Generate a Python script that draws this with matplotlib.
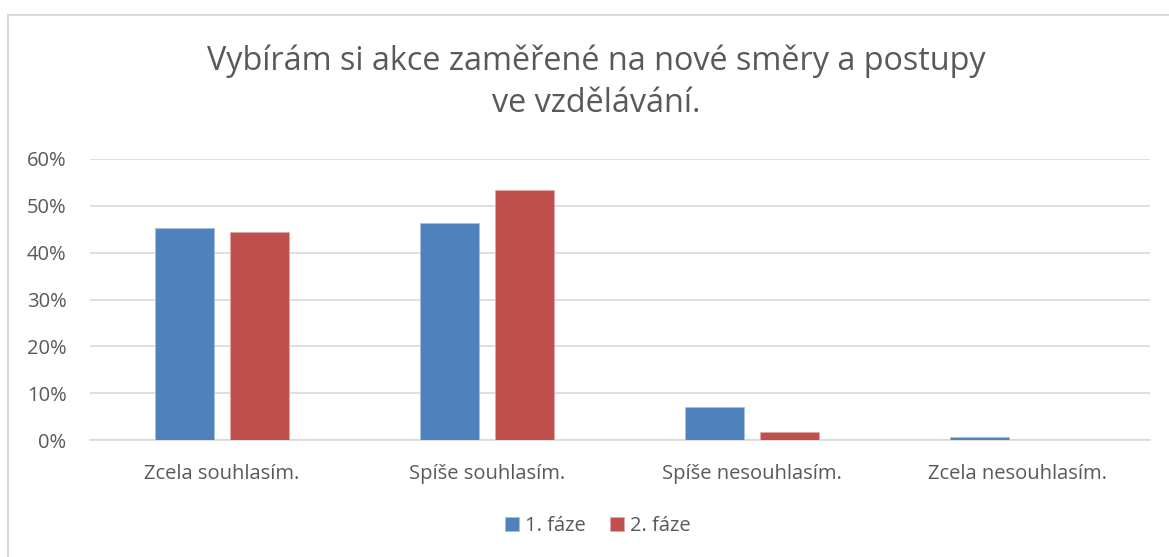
import matplotlib
matplotlib.use("Agg")
import matplotlib.pyplot as plt
import numpy as np
from matplotlib.ticker import PercentFormatter

# values
categories = ["Zcela souhlasím.", "Spíše souhlasím.", "Spíše nesouhlasím.", "Zcela nesouhlasím."]
faze1 = [0.453, 0.463, 0.071, 0.006]
faze2 = [0.445, 0.534, 0.018, 0.0]
series_names = ["1. fáze", "2. fáze"]

plt.rcParams['font.family'] = ['Open Sans', 'DejaVu Sans']
txt = "#595959"

fig = plt.figure(figsize=(11.69, 5.57), dpi=100)
ax = fig.add_axes([89.5/1169, 1-440/557, 1060/1169, 281/557])

x = np.arange(len(categories))
w = 0.226
off = 0.1415
ax.bar(x - off, faze1, w, color="#4f81bd", edgecolor="#a7bfde", linewidth=0.6, label=series_names[0], zorder=3)
ax.bar(x + off, faze2, w, color="#c0504d", edgecolor="#dfa8a7", linewidth=0.6, label=series_names[1], zorder=3)

ax.set_xlim(-0.5, len(categories) - 0.5)
ax.set_ylim(0, 0.6)
ax.set_yticks(np.arange(0, 0.61, 0.1))
ax.yaxis.set_major_formatter(PercentFormatter(1.0, decimals=0))
ax.grid(axis="y", color="#d9d9d9", linewidth=1.2, zorder=0)
for s in ["top", "right", "left"]:
    ax.spines[s].set_visible(False)
ax.spines["bottom"].set_color("#d9d9d9")
ax.spines["bottom"].set_linewidth(1.2)
ax.tick_params(axis="both", length=0, labelsize=14.5, colors=txt)
ax.tick_params(axis="y", pad=16.5)
ax.set_xticks(x)
ax.set_xticklabels(categories)
ax.tick_params(axis="x", pad=17)

cx = 596 / 1169
fig.text(cx, 1-61/557, "Vybírám si akce zaměřené na nové směry a postupy", ha="center", va="center", fontsize=23.3, color=txt)
fig.text(cx, 1-103/557, "ve vzdělávání.", ha="center", va="center", fontsize=23.3, color=txt)

fig.legend(loc="center", bbox_to_anchor=(598/1169, 1-526/557), ncol=2, frameon=False,
           fontsize=14.5, labelcolor=txt, handlelength=0.7, handleheight=0.7,
           handletextpad=0.3, columnspacing=1.2)

# outer chart border (top-left corner visible, right/bottom run off the image)
top = 1 - 15/557
fig.patches.append(plt.Rectangle((8/1169, -0.05), 1.1, top + 0.05, transform=fig.transFigure,
                                 fill=False, edgecolor="#d9d9d9", linewidth=1.5))

fig.savefig("out.png", dpi=100)
